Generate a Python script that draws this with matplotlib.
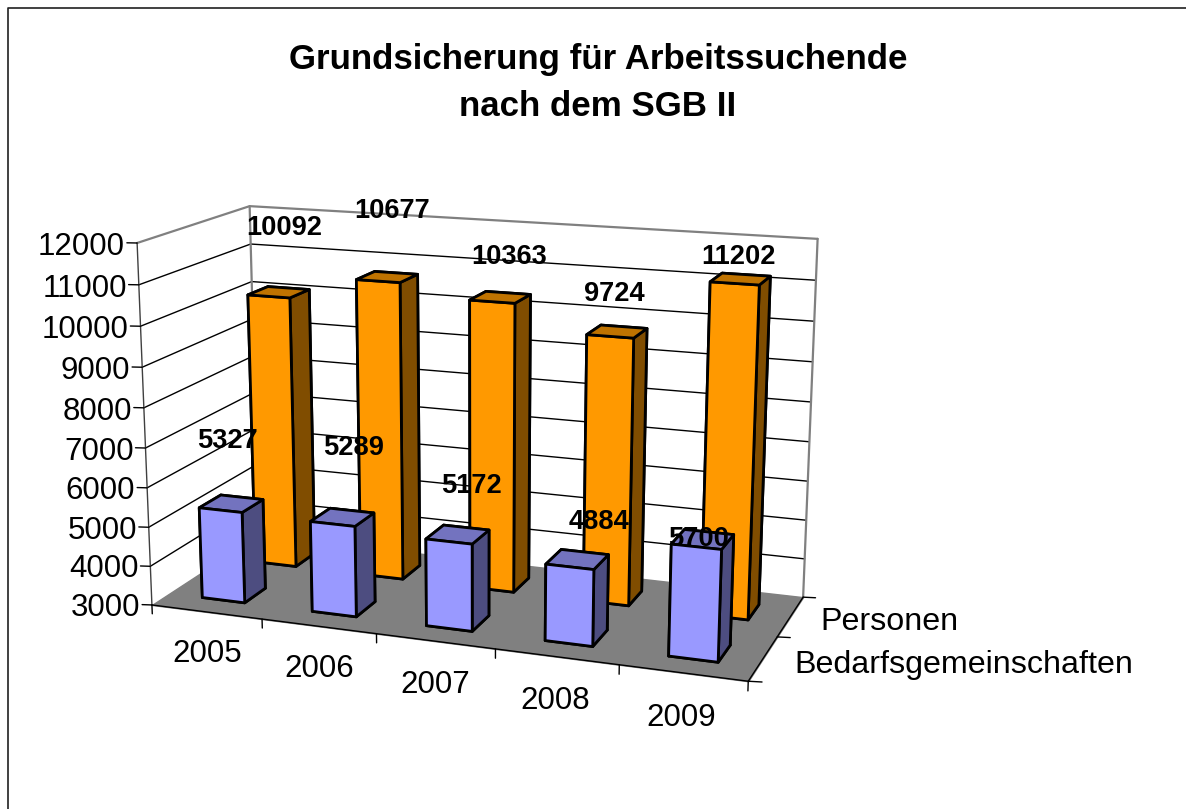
import numpy as np
import matplotlib
matplotlib.use('Agg')
import matplotlib.pyplot as plt
from matplotlib.lines import Line2D
from mpl_toolkits.mplot3d import proj3d
from mpl_toolkits.mplot3d.art3d import Poly3DCollection

plt.rcParams['font.family'] = ['Liberation Sans', 'DejaVu Sans']

years = ['2005', '2006', '2007', '2008', '2009']
series = ['Bedarfsgemeinschaften', 'Personen']
bedarfsgemeinschaften = [5327, 5289, 5172, 4884, 5700]
personen = [10092, 10677, 10363, 9724, 11202]
z_ticks = [3000, 4000, 5000, 6000, 7000, 8000, 9000, 10000, 11000, 12000]

# label shifts relative to the bar top centre (excel places them oddly)
front_dx = [-0.02, 0.11, 0.12, 0.17, -0.035]
front_dz = [1600, 1770, 1250, 975, 0]
back_dx = [0.07, 0.05, 0.08, -0.03, -0.02]
back_dz = [1670, 1670, 1020, 920, 510]

W, H = 1186, 809
BAR = 0.39
ZMIN, ZMAX = z_ticks[0], z_ticks[-1]
GREY = '#808080'

# camera fitted to the corners of the original chart
azim, elev, focal, asp_y, asp_z, cx, cy, size = (-70.071, 14.604, 0.5327, 0.4039, 0.6024, 469.25, 434.94, 740.49)


def line(ax, xs, ys, zs, color='black', lw=1.0, z=1):
    ax.plot(xs, ys, zs, color=color, lw=lw, zorder=z, solid_capstyle='round')


def label(ax, x, y, z, text, **kwargs):
    # plain 2d text at the projected spot, so its extent is a real one
    px, py, _ = proj3d.proj_transform(x, y, z, ax.get_proj())
    ax.text2D(px, py, text, transform=ax.transData, **kwargs)


def draw_walls(ax):
    nx, ny = len(years), len(series)
    floor = [[(0, 0, ZMIN), (nx, 0, ZMIN), (nx, ny, ZMIN), (0, ny, ZMIN)]]
    ax.add_collection3d(Poly3DCollection(floor, facecolors=GREY, edgecolors=GREY, zorder=1))
    for t in z_ticks[1:-1]:
        line(ax, [0, 0, nx], [0, ny, ny], [t, t, t], lw=1.0, z=2)
    line(ax, [0, 0, nx, nx], [0, ny, ny, ny], [ZMAX] * 4, color=GREY, lw=1.6, z=2)
    line(ax, [0, 0], [ny, ny], [ZMIN, ZMAX], color=GREY, lw=1.6, z=2)
    line(ax, [nx, nx], [ny, ny], [ZMIN, ZMAX], color=GREY, lw=1.6, z=2)
    # axis lines and tick marks
    line(ax, [0, 0], [0, 0], [ZMIN, ZMAX], color='#404040', lw=1.0, z=2)
    line(ax, [0, nx, nx], [0, 0, ny], [ZMIN, ZMIN, ZMIN], lw=1.0, z=2)
    for t in z_ticks:
        line(ax, [0, -0.08], [0, -0.02], [t, t], lw=1.0, z=2)
    for i in range(nx + 1):
        line(ax, [i, i], [0, 0], [ZMIN, ZMIN - 230], lw=1.0, z=2)
    for i in range(ny + 1):
        line(ax, [nx, nx + 0.1], [i, i + 0.02], [ZMIN, ZMIN], lw=1.0, z=2)


def draw_bars(ax, values, y0, colors, z):
    front, side, top = colors
    # order of the faces in bar3d: bottom, top, front, back, left, right
    faces = [top, top, front, front, side, side]
    for i, v in enumerate(values):
        ax.bar3d(i + 0.5 - BAR / 2, y0 + 0.5 - BAR / 2, ZMIN, BAR, BAR, v - ZMIN, color=faces, shade=False,
                 edgecolor='black', linewidth=2.0, zorder=z + i)


def draw_labels(ax, values, y0, dx, dz):
    for i, v in enumerate(values):
        label(ax, i + 0.5 + dx[i], y0 + 0.5, v + dz[i], str(v), ha='center', va='center',
              fontsize=19.6, fontweight='bold', zorder=50)


def main():
    fig = plt.figure(figsize=(W / 100, H / 100), dpi=100)
    ax = fig.add_axes([(cx - size / 2) / W, 1 - (cy + size / 2) / H, size / W, size / H], projection='3d', computed_zorder=False)
    ax.set_xlim(0, len(years))
    ax.set_ylim(0, len(series))
    ax.set_zlim(ZMIN, ZMAX)
    ax.view_init(elev=elev, azim=azim)
    ax.set_proj_type('persp', focal_length=focal)
    ax.set_box_aspect((1, asp_y, asp_z))
    ax.set_axis_off()

    draw_walls(ax)
    draw_bars(ax, personen, 1, ('#FF9900', '#804D00', '#BF7300'), 10)
    draw_bars(ax, bedarfsgemeinschaften, 0, ('#9999FF', '#4D4D80', '#7373BF'), 20)
    draw_labels(ax, personen, 1, back_dx, back_dz)
    draw_labels(ax, bedarfsgemeinschaften, 0, front_dx, front_dz)

    for t in z_ticks:
        label(ax, -0.11, 0, t - 120, str(t), ha='right', va='center', fontsize=22.5)
    for i, y in enumerate(years):
        label(ax, i * 0.975 + 0.68, -0.35, ZMIN - 650, y, ha='center', va='center', fontsize=22.5)
    for i, s in enumerate(series):
        label(ax, len(years) + 0.25, i + 0.45, ZMIN, s, ha='left', va='center', fontsize=23.2)

    fig.text(598 / W, 1 - 83 / H, 'Grundsicherung für Arbeitssuchende\nnach dem SGB II', ha='center', va='center',
             fontsize=25.1, fontweight='bold', linespacing=1.55)
    fig.add_artist(Line2D([7.5 / W, 7.5 / W, 1], [0, 1 - 7.5 / H, 1 - 7.5 / H], color='#202020', lw=1.2))

    fig.savefig('out.png', dpi=100)


if __name__ == "__main__":
    main()
